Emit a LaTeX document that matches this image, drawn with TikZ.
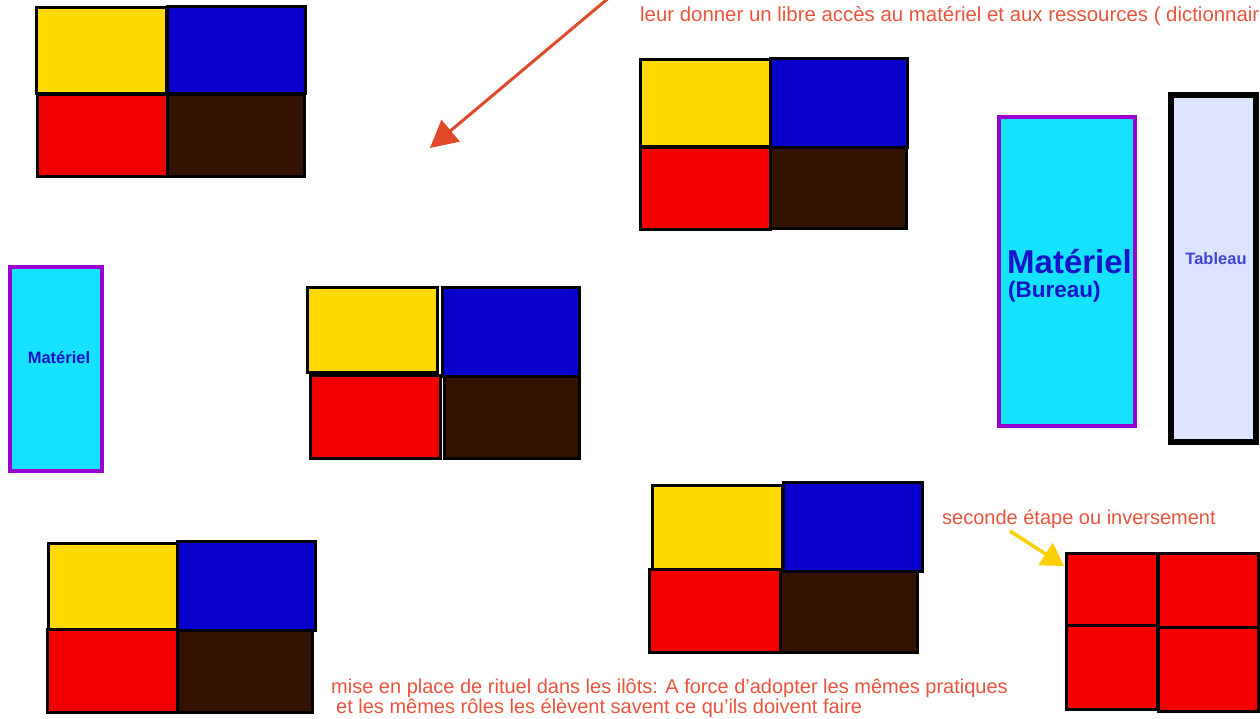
\documentclass[tikz,border=0pt]{standalone}
\usepackage{fontspec}
\setmainfont{Liberation Sans}
\usetikzlibrary{fit,arrows.meta}
\definecolor{cyel}{HTML}{FFD900}
\definecolor{cblu}{HTML}{0A00CC}
\definecolor{cred}{HTML}{F50000}
\definecolor{cbrn}{HTML}{331200}
\definecolor{ccyan}{HTML}{14E2FF}
\definecolor{cpurp}{HTML}{9A00D0}
\definecolor{ctab}{HTML}{DDE4FF}
\definecolor{ctxt}{HTML}{E8543E}
\definecolor{cmat}{HTML}{1414C8}
\definecolor{carrow}{HTML}{E04A2A}
\definecolor{cyarrow}{HTML}{FFD000}
\tikzset{
  cellbox/.style={draw=black, line width=3pt, inner sep=0pt, outer sep=0pt},
  matbox/.style={draw=cpurp, fill=ccyan, line width=4pt, inner sep=0pt},
  tabbox/.style={draw=black, fill=ctab, line width=6pt, inner sep=0pt},
  note/.style={text=ctxt, inner sep=0pt, anchor=base west, font=\fontsize{20}{24}\selectfont},
  mattext/.style={text=cmat, inner sep=0pt, font=\bfseries},
}
\newcommand{\cellat}[6]{\node (#1) [cellbox, fill=#6, fit={(#2,#3) (#4,#5)}] {};}
\begin{document}
\begin{tikzpicture}[x=1pt,y=-1pt]
\useasboundingbox (0,0) rectangle (1260,719);
\clip (0,0) rectangle (1260,719);
\fill[white] (0,0) rectangle (1260,719);
% block 1 (top left)
\cellat{ay}{36}{8}{166}{94}{cyel}
\cellat{ab}{167}{7}{305}{94}{cblu}
\cellat{ar}{37}{95}{167}{177}{cred}
\cellat{an}{167}{95}{304}{177}{cbrn}
% block 2 (top right)
\cellat{by}{640}{60}{770}{147}{cyel}
\cellat{bb}{770}{59}{907}{148}{cblu}
\cellat{br}{640}{148}{770}{230}{cred}
\cellat{bn}{770}{148}{906}{229}{cbrn}
% block 3 (centre)
\cellat{cy}{307}{287}{437}{372}{cyel}
\cellat{cb}{442}{287}{579}{376}{cblu}
\cellat{cr}{310}{375}{440}{458}{cred}
\cellat{cn}{444}{376}{579}{458}{cbrn}
% block 4 (bottom right)
\cellat{dy}{652}{485}{782}{569}{cyel}
\cellat{db}{783}{482}{922}{571}{cblu}
\cellat{dr}{649}{569}{780}{652}{cred}
\cellat{dn}{780}{571}{917}{652}{cbrn}
% block 5 (bottom left)
\cellat{ey}{48}{543}{177}{629}{cyel}
\cellat{eb}{177}{541}{315}{630}{cblu}
\cellat{er}{47}{629}{177}{712}{cred}
\cellat{en}{177}{630}{312}{712}{cbrn}
% red quad
\cellat{q1}{1066}{553}{1157}{625}{cred}
\cellat{q2}{1158}{553}{1258}{627}{cred}
\cellat{q3}{1066}{625}{1157}{709}{cred}
\cellat{q4}{1158}{627}{1258}{711}{cred}
% materiel left
\node (ml) [matbox, fit={(10,267) (102,471)}] {};
\node (mlt) [mattext, font=\bfseries\fontsize{16.5}{18}\selectfont] at (59,358) {Matériel};
% materiel bureau
\node (mb) [matbox, fit={(999,117) (1135,426)}] {};
\node (mbt1) [mattext, anchor=base west, font=\bfseries\fontsize{33}{36}\selectfont] at (1007,273) {Matériel};
\node (mbt2) [mattext, anchor=base west, font=\bfseries\fontsize{22.5}{26}\selectfont] at (1008,297) {(Bureau)};
% tableau
\node (tb) [tabbox, fit={(1171,95) (1256,442)}] {};
\node (tbt) [mattext, text=cmat!80!white, anchor=base, font=\bfseries\fontsize{16.5}{18}\selectfont] at (1216,265) {Tableau};
% texts
\node (top) [note, font=\fontsize{20.4}{24}\selectfont] at (640,22) {leur donner un libre accès au matériel et aux ressources ( dictionnair};
\node (snd) [note] at (942,524) {seconde étape ou inversement};
\node (bt1) [note] at (331,693) {mise en place de rituel dans les ilôts: A force d'adopter les mêmes pratiques};
\node (bt2) [note] at (336,713) {et les mêmes rôles les élèvent savent ce qu'ils doivent faire};
% arrows
\coordinate (ra1) at (611,-4);
\coordinate (ra2) at (430,148);
\draw[carrow, line width=3pt, -{Triangle[length=27pt,width=28pt]}] (ra1) -- (ra2);
\coordinate (ya1) at (1010,531);
\coordinate (ya2) at (1064,566);
\draw[cyarrow, line width=3.5pt, -{Triangle[length=22pt,width=26pt]}] (ya1) -- (ya2);
\end{tikzpicture}
\end{document}
